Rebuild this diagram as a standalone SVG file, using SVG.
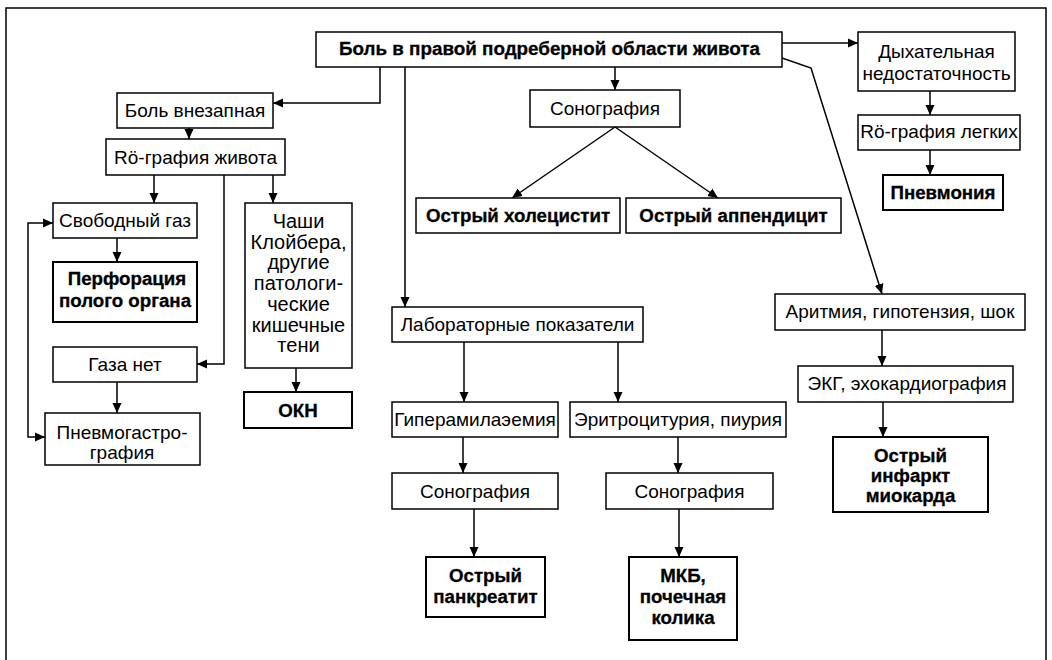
<svg xmlns="http://www.w3.org/2000/svg" width="1052" height="660" viewBox="0 0 1052 660">
<defs>
<marker id="ah" viewBox="0 0 10 10" refX="10" refY="5" markerWidth="10" markerHeight="10" markerUnits="userSpaceOnUse" orient="auto-start-reverse">
<path d="M0,0.5 L10,5 L0,9.5 Z" fill="#000"/>
</marker>
<style>
.b{fill:#fff;stroke:#000;stroke-width:1.5}
.bb{fill:#fff;stroke:#000;stroke-width:2}
.t{font-family:"Liberation Sans",Arial,sans-serif;font-size:19px;fill:#000;text-anchor:middle}
.t2{font-family:"Liberation Sans",Arial,sans-serif;font-size:20px;fill:#000;text-anchor:middle}
.tb{font-family:"Liberation Sans",Arial,sans-serif;font-size:18.7px;font-weight:bold;fill:#000;text-anchor:middle;stroke:#000;stroke-width:0.3}
.c{fill:none;stroke:#000;stroke-width:1.5}
.ca{fill:none;stroke:#000;stroke-width:1.5;marker-end:url(#ah)}
</style>
</defs>
<rect x="0" y="0" width="1052" height="660" fill="#fff"/>
<path d="M6,660 V8 H1046 V660" fill="none" stroke="#000" stroke-width="1.5"/>

<g id="connectors">
<path class="ca" d="M380,67 V103 H273"/>
<path class="ca" d="M189,128 V139"/>
<path class="ca" d="M154,175 V203"/>
<path class="ca" d="M273,175 V203"/>
<path class="ca" d="M224,175 V364 H197"/>
<path class="ca" d="M117,238 V262"/>
<path class="ca" d="M117,382 V413"/>
<path class="ca" d="M53,223 H28 V437 H45" marker-start="url(#ah)"/>
<path class="ca" d="M296,368 V392"/>
<path class="ca" d="M405,67 V307"/>
<path class="ca" d="M615,67 V90"/>
<path class="ca" d="M615,127 L512,198"/>
<path class="ca" d="M615,127 L718,198"/>
<path class="ca" d="M464,342 V402"/>
<path class="ca" d="M618,342 V402"/>
<path class="ca" d="M463,437 V473"/>
<path class="ca" d="M678,437 V473"/>
<path class="ca" d="M474,509 V557"/>
<path class="ca" d="M679,509 V557"/>
<path class="ca" d="M782,43 H858"/>
<path class="ca" d="M930,91 V115"/>
<path class="ca" d="M930,150 V175"/>
<path class="ca" d="M782,58 L811,68 L882,294"/>
<path class="ca" d="M882,330 V366"/>
<path class="ca" d="M883,402 V437"/>
</g>

<g id="top"><rect class="b" x="316" y="32" width="466" height="35"/>
<text class="tb" x="549.5" y="55" textLength="421" lengthAdjust="spacingAndGlyphs" stroke-width="0.8">Боль в правой подреберной области живота</text></g>

<g id="bol-vnezapnaya"><rect class="b" x="117" y="93" width="156" height="35"/>
<text class="t" x="195" y="117">Боль внезапная</text></g>

<g id="ro-zhivota"><rect class="b" x="106" y="139" width="179" height="36"/>
<text class="t" x="195.5" y="164">Rö-графия живота</text></g>

<g id="svobodny-gaz"><rect class="b" x="53" y="203" width="144" height="35"/>
<text class="t" x="125" y="227">Свободный газ</text></g>

<g id="perforaciya"><rect class="bb" x="53" y="262" width="144" height="60"/>
<text class="tb" x="127" y="285">Перфорация</text>
<text class="tb" x="125" y="307">полого органа</text></g>

<g id="gaza-net"><rect class="b" x="53" y="347" width="144" height="35"/>
<text class="t" x="125" y="371">Газа нет</text></g>

<g id="pnevmogastro"><rect class="b" x="45" y="413" width="155" height="52"/>
<text class="t" x="122" y="439">Пневмогастро-</text>
<text class="t" x="122" y="459">графия</text></g>

<g id="chashi"><rect class="b" x="245" y="203" width="107" height="165"/>
<text class="t2" x="298.5" y="228">Чаши</text>
<text class="t2" x="298.5" y="249">Клойбера,</text>
<text class="t2" x="298.5" y="269">другие</text>
<text class="t2" x="298.5" y="290">патологи-</text>
<text class="t2" x="298.5" y="311">ческие</text>
<text class="t2" x="298.5" y="332">кишечные</text>
<text class="t2" x="298.5" y="352">тени</text></g>

<g id="okn"><rect class="bb" x="244" y="392" width="108" height="36"/>
<text class="tb" x="298" y="417">ОКН</text></g>

<g id="sonografiya-1"><rect class="b" x="530" y="90" width="150" height="37"/>
<text class="t" x="605" y="115">Сонография</text></g>

<g id="holecistit"><rect class="b" x="416" y="198" width="204" height="35"/>
<text class="tb" x="518" y="222">Острый холецистит</text></g>

<g id="appendicit"><rect class="b" x="626" y="198" width="215" height="35"/>
<text class="tb" x="733.5" y="222">Острый аппендицит</text></g>

<g id="lab"><rect class="b" x="392" y="307" width="251" height="35"/>
<text class="t" x="517.5" y="331">Лабораторные показатели</text></g>

<g id="hyperamil"><rect class="b" x="392" y="402" width="166" height="35"/>
<text class="t" x="475" y="426">Гиперамилаэемия</text></g>

<g id="eritrocit"><rect class="b" x="570" y="402" width="216" height="35"/>
<text class="t" x="678" y="426">Эритроцитурия, пиурия</text></g>

<g id="sonografiya-2"><rect class="b" x="392" y="473" width="166" height="36"/>
<text class="t" x="475" y="498">Сонография</text></g>

<g id="sonografiya-3"><rect class="b" x="606" y="473" width="167" height="36"/>
<text class="t" x="689.5" y="498">Сонография</text></g>

<g id="pankreatit"><rect class="bb" x="426" y="557" width="119" height="60"/>
<text class="tb" x="485.5" y="582">Острый</text>
<text class="tb" x="485.5" y="603">панкреатит</text></g>

<g id="mkb"><rect class="bb" x="629" y="557" width="108" height="83"/>
<text class="tb" x="683" y="582">МКБ,</text>
<text class="tb" x="683" y="603">почечная</text>
<text class="tb" x="683" y="624">колика</text></g>

<g id="dyhatelnaya"><rect class="b" x="858" y="32" width="157" height="59"/>
<text class="t" x="936.5" y="58">Дыхательная</text>
<text class="t" x="936.5" y="80">недостаточность</text></g>

<g id="ro-legkih"><rect class="b" x="858" y="115" width="162" height="35"/>
<text class="t" x="939" y="138">Rö-графия легких</text></g>

<g id="pnevmoniya"><rect class="bb" x="883" y="175" width="120" height="35"/>
<text class="tb" x="943" y="199">Пневмония</text></g>

<g id="aritmiya"><rect class="b" x="775" y="294" width="250" height="36"/>
<text class="t" x="900" y="318">Аритмия, гипотензия, шок</text></g>

<g id="ekg"><rect class="b" x="798" y="366" width="215" height="36"/>
<text class="t" x="907" y="390">ЭКГ, эхокардиография</text></g>

<g id="infarkt"><rect class="bb" x="833" y="437" width="155" height="75"/>
<text class="tb" x="910.5" y="462">Острый</text>
<text class="tb" x="910.5" y="482">инфаркт</text>
<text class="tb" x="910.5" y="502">миокарда</text></g>
</svg>
